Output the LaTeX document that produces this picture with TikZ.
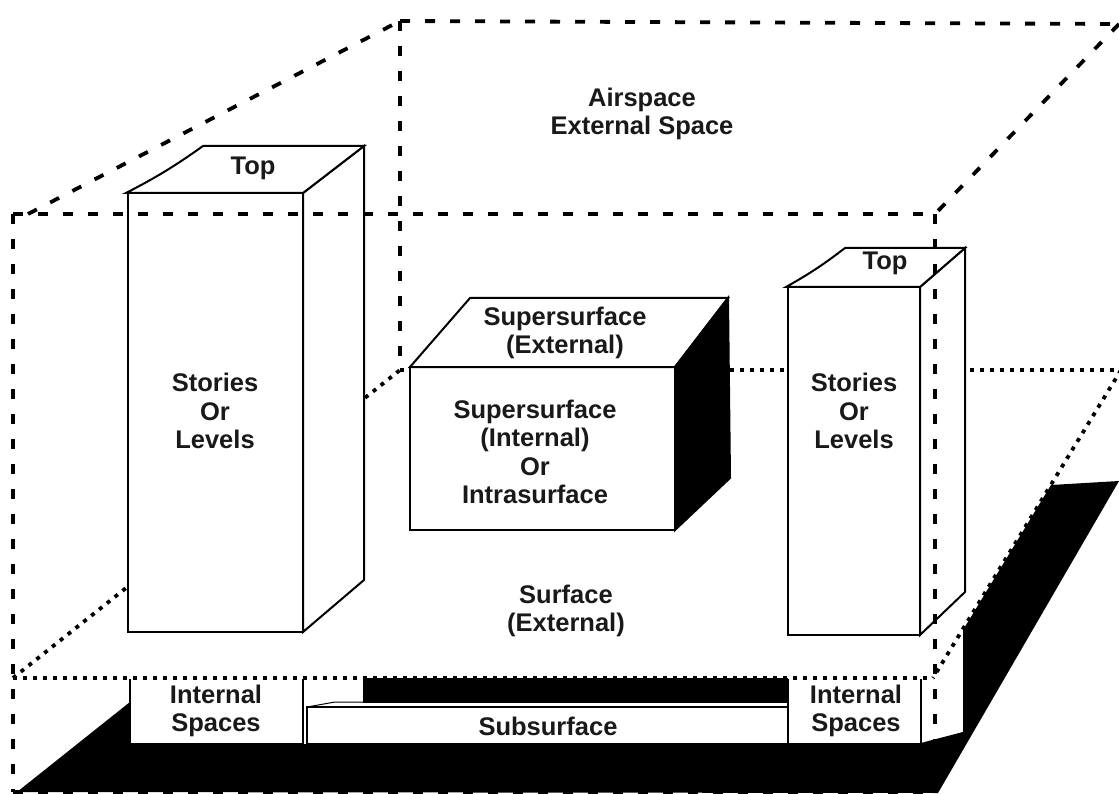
\documentclass[tikz,border=0pt]{standalone}
\usepackage{fontspec}
\setmainfont{Liberation Sans}
\begin{document}
\begin{tikzpicture}[x=1pt,y=-1pt,
  dashline/.style={line width=3.8pt,dash pattern=on 10pt off 15pt},
  dotline/.style={line width=3.8pt,dash pattern=on 4pt off 6pt},
  solidline/.style={line width=2pt,line join=miter},
  face/.style={solidline,fill=white},
  lbl/.style={inner sep=0pt,align=center,text=black!90,
    font=\fontsize{25.5}{28.5}\selectfont\bfseries}]
\useasboundingbox (0,0) rectangle (1119,794);
% --- outer airspace box corners
\coordinate (FTL) at (13,214);
\coordinate (FTR) at (935,214);
\coordinate (FBL) at (13,792);
\coordinate (FBR) at (935,792);
\coordinate (BTL) at (400,21);
\coordinate (BTR) at (1119,24);
\coordinate (BML) at (400,370);
\coordinate (DG) at (28,214);
% --- surface plane corners
\coordinate (SFL) at (13,678);
\coordinate (SFR) at (933,678);
\coordinate (SBL) at (400,370);
\coordinate (SBR) at (1121,370);
% --- black ground slab
\fill[black] (17,792) -- (130,702) -- (130,744) -- (922,744) -- (963,733)
  -- (963,630) -- (1051,485) -- (1119,481) -- (938,793) -- cycle;
\fill[black] (363,678) rectangle (788,703);
% --- surface (dotted)
\draw[dotline] (SFL) -- (SBL);
\draw[dotline] (SBL) -- (SBR);
\draw[dotline] (SBR) -- (SFR);
% --- left tower
\draw[face] (128,193) rectangle (303,632);
\draw[face] (303,193) -- (364,146) -- (364,580) -- (303,632) -- cycle;
\draw[face] (126,193) to[bend right=4] (203,146) -- (364,146) -- (303,193) -- cycle;
% --- centre box
\draw[face] (410,367) rectangle (675,530);
\draw[face] (410,367) -- (470,298) -- (728,298) -- (675,367) -- cycle;
\draw[solidline,fill=black] (675,367) -- (728,298) -- (730,478) -- (675,530) -- cycle;
% --- right tower
\draw[face] (788,287) rectangle (920,635);
\draw[face] (920,287) -- (965,248) -- (965,592) -- (920,635) -- cycle;
\draw[face] (786,287) to[bend right=4] (845,248) -- (965,248) -- (920,287) -- cycle;
% --- outer airspace box (dashed, drawn over)
\draw[dashline] (FTL) -- (FTR);
\draw[dashline] (FTL) -- (FBL);
\draw[dashline] (FBL) -- (FBR);
\draw[dashline] (FTR) -- (FBR);
\draw[dashline] (DG) -- (BTL);
\draw[dashline] (BTL) -- (BTR);
\draw[dashline] (BTR) -- (FTR);
\draw[dashline] (BTL) -- (BML);
% --- subsurface boxes
\fill[white] (130,679) rectangle (303,744);
\draw[solidline] (130,679) -- (130,744) -- (303,744) -- (303,679);
\draw[face] (307,707) rectangle (788,744);
\draw[line width=1pt] (307,707) -- (335,702) -- (363,702);
\fill[white] (788,679) rectangle (921,744);
\draw[solidline] (788,679) -- (788,744) -- (921,744) -- (921,679);
\draw[solidline] (921,744) -- (963,733);
% --- front surface edge
\draw[dotline] (SFL) -- (SFR);
% --- labels
\node[lbl] (air) at (642,114) {Airspace\\External Space};
\node[lbl] (topl) at (253,168) {Top};
\node[lbl] (topr) at (885,263) {Top};
\node[lbl] (stl) at (215,411) {Stories\\Or\\Levels};
\node[lbl] (str) at (854,411) {Stories\\Or\\Levels};
\node[lbl] (sext) at (565,333) {Supersurface\\(External)};
\node[lbl] (sint) at (535,452) {Supersurface\\(Internal)\\Or\\Intrasurface};
\node[lbl] (surf) at (566,611) {Surface\\(External)};
\node[lbl] (intl) at (216,711) {Internal\\Spaces};
\node[lbl] (intr) at (856,711) {Internal\\Spaces};
\node[lbl] (subs) at (548,726) {Subsurface};
\end{tikzpicture}
\end{document}
